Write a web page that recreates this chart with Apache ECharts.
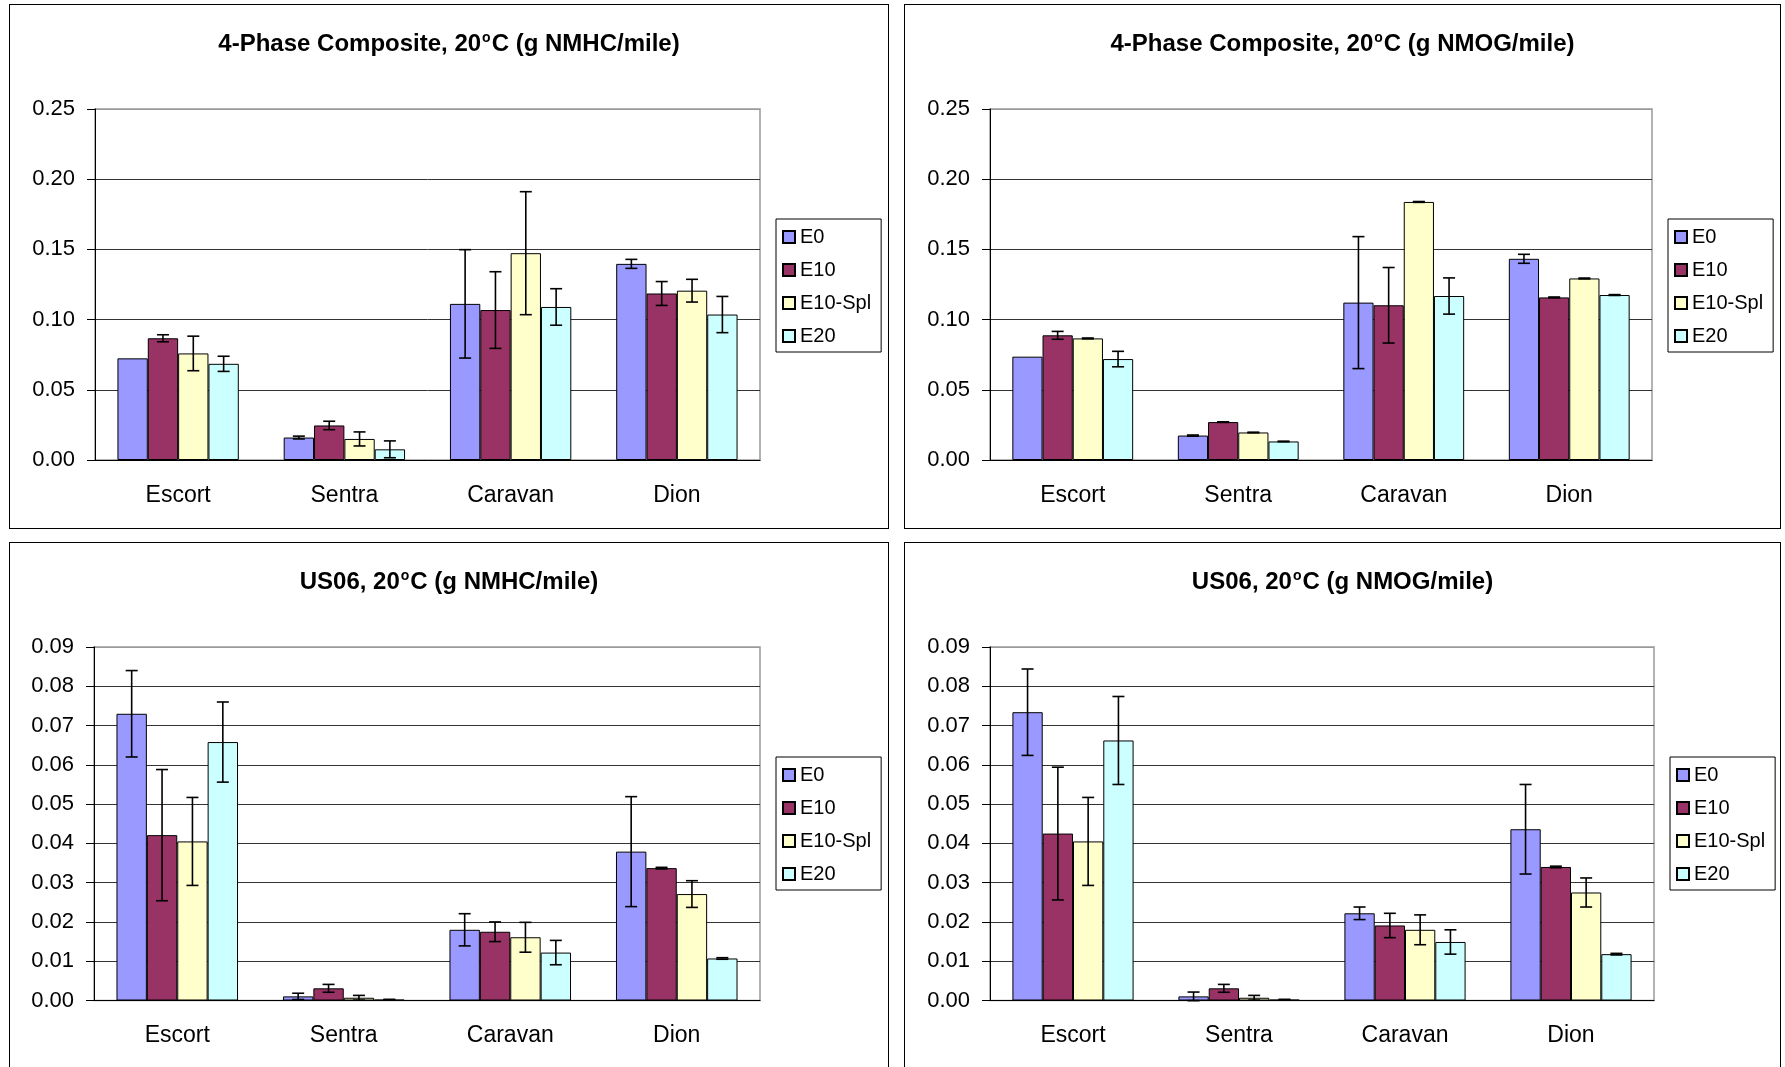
<!DOCTYPE html>
<html>
<head>
<meta charset="utf-8">
<script src="https://cdn.jsdelivr.net/npm/echarts@6/dist/echarts.min.js"></script>
<style>
html,body{margin:0;padding:0;background:#fff;overflow:hidden;width:1785px;height:1067px;}
.chart{position:absolute;}
.frame{position:absolute;border:1.5px solid #000;box-sizing:border-box;pointer-events:none;}
</style>
</head>
<body>
<div id="c1" class="chart" style="left:9px;top:4px;width:880px;height:525px"></div>
<div id="c2" class="chart" style="left:904px;top:4px;width:877px;height:525px"></div>
<div id="c3" class="chart" style="left:9px;top:542px;width:880px;height:540px"></div>
<div id="c4" class="chart" style="left:904px;top:542px;width:877px;height:540px"></div>
<div class="frame" style="left:9px;top:4px;width:880px;height:525px"></div>
<div class="frame" style="left:904px;top:4px;width:877px;height:525px"></div>
<div class="frame" style="left:9px;top:542px;width:880px;height:540px"></div>
<div class="frame" style="left:904px;top:542px;width:877px;height:540px"></div>
<script>
// ---------- DATA ----------
const categories = ['Escort', 'Sentra', 'Caravan', 'Dion'];
const seriesNames = ['E0', 'E10', 'E10-Spl', 'E20'];
const yTicksComposite = ['0.00', '0.05', '0.10', '0.15', '0.20', '0.25'];
const yTicksUS06 = ['0.00', '0.01', '0.02', '0.03', '0.04', '0.05', '0.06', '0.07', '0.08', '0.09'];

// 4-Phase Composite, NMHC
const compNMHC_E0    = [0.0724, 0.0160, 0.1112, 0.1397];
const compNMHC_E10   = [0.0867, 0.0246, 0.1068, 0.1186];
const compNMHC_E10S  = [0.0759, 0.0150, 0.1473, 0.1206];
const compNMHC_E20   = [0.0685, 0.0076, 0.1090, 0.1036];
const compNMHC_errE0   = [0, 0.0010, 0.0386, 0.0032];
const compNMHC_errE10  = [0.0025, 0.0030, 0.0273, 0.0085];
const compNMHC_errE10S = [0.0123, 0.0050, 0.0438, 0.0081];
const compNMHC_errE20  = [0.0054, 0.0060, 0.0130, 0.0129];

// 4-Phase Composite, NMOG
const compNMOG_E0    = [0.0736, 0.0174, 0.1121, 0.1433];
const compNMOG_E10   = [0.0888, 0.0270, 0.1102, 0.1158];
const compNMOG_E10S  = [0.0866, 0.0196, 0.1838, 0.1293];
const compNMOG_E20   = [0.0719, 0.0132, 0.1168, 0.1175];
const compNMOG_errE0   = [0, 0.0004, 0.0470, 0.0032];
const compNMOG_errE10  = [0.0028, 0.0002, 0.0269, 0.0003];
const compNMOG_errE10S = [0.0003, 0.0002, 0.0003, 0.0003];
const compNMOG_errE20  = [0.0055, 0.0002, 0.0129, 0.0003];

// US06, NMHC
const us06NMHC_E0    = [0.0730, 0.00105, 0.0180, 0.0379];
const us06NMHC_E10   = [0.0421, 0.0031, 0.0175, 0.0337];
const us06NMHC_E10S  = [0.0405, 0.0007, 0.0161, 0.0271];
const us06NMHC_E20   = [0.0658, 0.0002, 0.0122, 0.0107];
const us06NMHC_errE0   = [0.0110, 0.0008, 0.0041, 0.0140];
const us06NMHC_errE10  = [0.0167, 0.0010, 0.0025, 0.0002];
const us06NMHC_errE10S = [0.0112, 0.0006, 0.0038, 0.0034];
const us06NMHC_errE20  = [0.0102, 0.0001, 0.0031, 0.0002];

// US06, NMOG
const us06NMOG_E0    = [0.0734, 0.00105, 0.0222, 0.0436];
const us06NMOG_E10   = [0.0425, 0.0031, 0.0191, 0.0340];
const us06NMOG_E10S  = [0.0405, 0.0007, 0.0180, 0.0275];
const us06NMOG_E20   = [0.0662, 0.0002, 0.0149, 0.0118];
const us06NMOG_errE0   = [0.0110, 0.0011, 0.0016, 0.0114];
const us06NMOG_errE10  = [0.0169, 0.0010, 0.0031, 0.0002];
const us06NMOG_errE10S = [0.0112, 0.0006, 0.0038, 0.0037];
const us06NMOG_errE20  = [0.0112, 0.0001, 0.0031, 0.0002];

// ---------- STYLE ----------
const FONT = 'Liberation Sans, Arial, Helvetica, sans-serif';
const colors = ['#9999FF', '#993366', '#FFFFCC', '#CCFFFF'];
const CAT_GAP = 0.27;
const NS = seriesNames.length;

function renderErr(params, api) {
  const c = api.value(0), s = api.value(1);
  const band = api.size([1, 0])[0];
  const bw = band * (1 - CAT_GAP) / NS;
  const cx = api.coord([c, 0])[0] + (s - (NS - 1) / 2) * bw;
  const y1 = api.coord([c, api.value(2)])[1];
  const y2 = api.coord([c, api.value(3)])[1];
  const hw = 6;
  const st = { stroke: '#000', lineWidth: 1.6 };
  return {
    type: 'group',
    children: [
      { type: 'line', shape: { x1: cx, y1: y1, x2: cx, y2: y2 }, style: st },
      { type: 'line', shape: { x1: cx - hw, y1: y1, x2: cx + hw, y2: y1 }, style: st },
      { type: 'line', shape: { x1: cx - hw, y1: y2, x2: cx + hw, y2: y2 }, style: st }
    ]
  };
}

function makeOption(titleText, ticks, vals, errs, layout) {
  const yMax = parseFloat(ticks[ticks.length - 1]);
  const yInt = parseFloat(ticks[1]);
  const errData = [];
  vals.forEach((arr, s) => {
    arr.forEach((v, c) => {
      const e = errs[s][c];
      if (e > 0) errData.push([c, s, v - e, v + e]);
    });
  });
  const series = vals.map((arr, s) => ({
    type: 'bar',
    name: seriesNames[s],
    data: arr,
    barGap: '0%',
    barCategoryGap: (CAT_GAP * 100) + '%',
    itemStyle: { color: colors[s], borderColor: '#000', borderWidth: 1 },
    silent: true
  }));
  series.push({
    type: 'custom',
    name: 'err',
    renderItem: renderErr,
    data: errData,
    encode: { x: 0, y: [2, 3] },
    z: 5,
    silent: true
  });
  return {
    animation: false,
    backgroundColor: '#fff',
    title: {
      text: titleText,
      left: 'center',
      top: layout.titleTop,
      padding: 0,
      textStyle: {
        fontFamily: FONT, fontSize: 24, fontWeight: 'bold', color: '#000',
        rich: { s: { fontFamily: FONT, fontSize: 14, fontWeight: 'bold', color: '#000',
          verticalAlign: 'bottom', padding: [0, 1, 12, 1] } }
      }
    },
    legend: {
      orient: 'vertical',
      left: layout.legendLeft,
      top: layout.legendTop,
      data: seriesNames,
      icon: 'rect',
      itemWidth: 12,
      itemHeight: 12,
      itemGap: 13,
      padding: [8, 10, 6, 6],
      borderColor: '#000',
      borderWidth: 1,
      backgroundColor: '#fff',
      textStyle: { fontFamily: FONT, fontSize: 20, color: '#000', lineHeight: 20 }
    },
    grid: {
      left: layout.gridLeft, top: layout.gridTop, width: layout.gridWidth, height: layout.gridHeight,
      show: true, borderColor: '#999', borderWidth: 1.5, backgroundColor: 'transparent'
    },
    xAxis: {
      type: 'category',
      data: categories,
      axisLine: { lineStyle: { color: '#000', width: 1 } },
      axisTick: { length: 8, lineStyle: { color: '#000' } },
      axisLabel: { fontFamily: FONT, fontSize: 23, color: '#000', margin: 24 }
    },
    yAxis: {
      type: 'value',
      min: 0, max: yMax, interval: yInt,
      axisLine: { show: true, lineStyle: { color: '#000', width: 1 } },
      axisTick: { show: true, length: 8, lineStyle: { color: '#000' } },
      axisLabel: { fontFamily: FONT, fontSize: 22, color: '#000', margin: 20,
        formatter: (v, i) => ticks[i] },
      splitLine: { lineStyle: { color: ticks.map((t, i) => i === ticks.length - 1 ? '#999' : '#333'), width: 1 } }
    },
    series: series
  };
}

const layoutTop = { titleTop: 27, legendLeft: 767, legendTop: 215, gridLeft: 86, gridTop: 105, gridWidth: 665, gridHeight: 351 };
const layoutTopR = { titleTop: 27, legendLeft: 764, legendTop: 215, gridLeft: 86, gridTop: 105, gridWidth: 662, gridHeight: 351 };
const layoutBot = { titleTop: 27, legendLeft: 767, legendTop: 215, gridLeft: 85, gridTop: 105, gridWidth: 666, gridHeight: 353.5 };
const layoutBotR = { titleTop: 27, legendLeft: 766, legendTop: 215, gridLeft: 86, gridTop: 105, gridWidth: 664, gridHeight: 353.5 };

echarts.init(document.getElementById('c1')).setOption(makeOption(
  '4-Phase Composite, 20{s|o}C (g NMHC/mile)', yTicksComposite,
  [compNMHC_E0, compNMHC_E10, compNMHC_E10S, compNMHC_E20],
  [compNMHC_errE0, compNMHC_errE10, compNMHC_errE10S, compNMHC_errE20], layoutTop));
echarts.init(document.getElementById('c2')).setOption(makeOption(
  '4-Phase Composite, 20{s|o}C (g NMOG/mile)', yTicksComposite,
  [compNMOG_E0, compNMOG_E10, compNMOG_E10S, compNMOG_E20],
  [compNMOG_errE0, compNMOG_errE10, compNMOG_errE10S, compNMOG_errE20], layoutTopR));
echarts.init(document.getElementById('c3')).setOption(makeOption(
  'US06, 20{s|o}C (g NMHC/mile)', yTicksUS06,
  [us06NMHC_E0, us06NMHC_E10, us06NMHC_E10S, us06NMHC_E20],
  [us06NMHC_errE0, us06NMHC_errE10, us06NMHC_errE10S, us06NMHC_errE20], layoutBot));
echarts.init(document.getElementById('c4')).setOption(makeOption(
  'US06, 20{s|o}C (g NMOG/mile)', yTicksUS06,
  [us06NMOG_E0, us06NMOG_E10, us06NMOG_E10S, us06NMOG_E20],
  [us06NMOG_errE0, us06NMOG_errE10, us06NMOG_errE10S, us06NMOG_errE20], layoutBotR));
</script>
</body>
</html>
